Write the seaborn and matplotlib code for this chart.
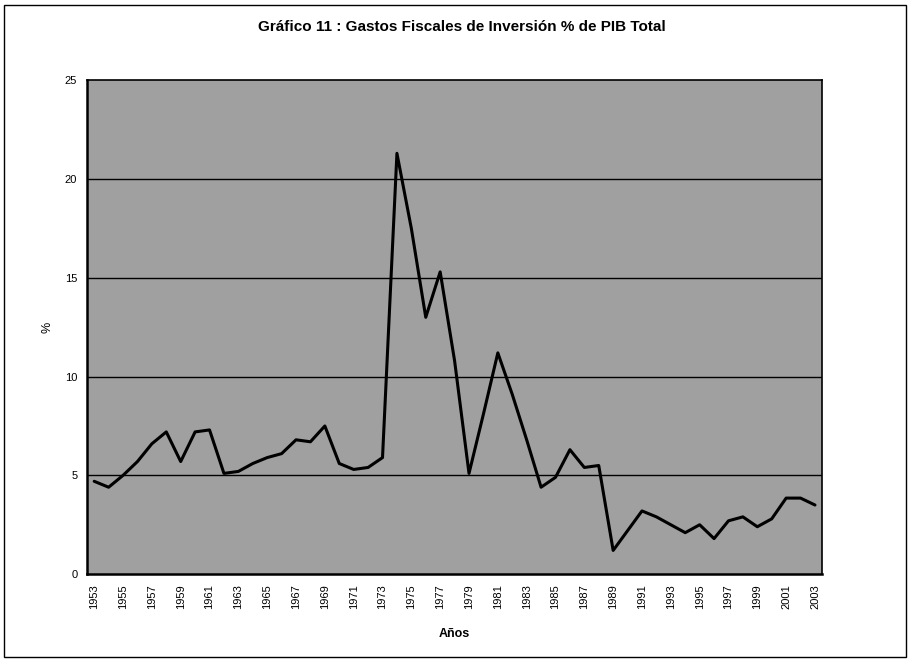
import numpy as np
import pandas as pd
import matplotlib
matplotlib.use("Agg")
import matplotlib.pyplot as plt
import seaborn as sns
from matplotlib.patches import Rectangle

# data
years = list(range(1953, 2004))
gasto_pct = [4.7, 4.4, 5.0, 5.7, 6.6, 7.2, 5.7, 7.2, 7.3, 5.1,
             5.2, 5.6, 5.9, 6.1, 6.8, 6.7, 7.5, 5.6, 5.3, 5.4,
             5.9, 21.3, 17.5, 13.0, 15.3, 10.8, 5.1, 8.1, 11.2, 9.1,
             6.8, 4.4, 4.9, 6.3, 5.4, 5.5, 1.2, 2.2, 3.2, 2.9,
             2.5, 2.1, 2.5, 1.8, 2.7, 2.9, 2.4, 2.8, 3.85, 3.85,
             3.5]
tick_years = list(range(1953, 2004, 2))
y_ticks = [0, 5, 10, 15, 20, 25]

title = "Gráfico 11 : Gastos Fiscales de Inversión % de PIB Total"

df = pd.DataFrame({"Año": years, "pct": gasto_pct})

sns.set_style("white", {"text.color": "black", "axes.labelcolor": "black",
                        "xtick.color": "black", "ytick.color": "black"})
plt.rcParams["font.family"] = ["Liberation Sans", "DejaVu Sans"]

fig = plt.figure(figsize=(9.11, 6.63), dpi=100)
ax = fig.add_axes([0.0955, 0.134, 0.807, 0.745])
ax.set_facecolor("#a0a0a0")

for v in y_ticks[1:-1]:
    ax.axhline(v, color="black", linewidth=1.0, zorder=1)

sns.lineplot(data=df, x="Año", y="pct", color="black", linewidth=2.2, ax=ax, zorder=3)

ax.set_xlim(1952.5, 2003.5)
ax.set_ylim(0, 25)
ax.set_xticks(tick_years)
ax.set_xticklabels([str(y) for y in tick_years], rotation=90, fontsize=8)
ax.set_xticks(years, minor=True)
ax.set_yticks(y_ticks)
ax.set_yticklabels([str(v) for v in y_ticks], fontsize=8)
ax.tick_params(axis="both", which="major", direction="out", length=4, width=1, color="black", pad=3)
ax.tick_params(axis="x", which="minor", direction="out", length=3, width=1, color="black")

for side in ["left", "bottom"]:
    ax.spines[side].set_linewidth(1.8)
for side in ["top", "right"]:
    ax.spines[side].set_linewidth(1.2)
for s in ax.spines.values():
    s.set_color("black")

ax.set_xlabel("Años", fontsize=9, fontweight="bold", labelpad=14, color="black")
ax.set_ylabel("%", fontsize=9, labelpad=8, color="black")
fig.text(0.507, 0.960, title, ha="center", va="center", fontsize=11,
         fontweight="bold", color="black")

# chart area border
fig.patches.append(Rectangle((0.004, 0.009), 0.99, 0.984, transform=fig.transFigure,
                             fill=False, edgecolor="black", linewidth=1.0))

fig.savefig("out.png", dpi=100)
